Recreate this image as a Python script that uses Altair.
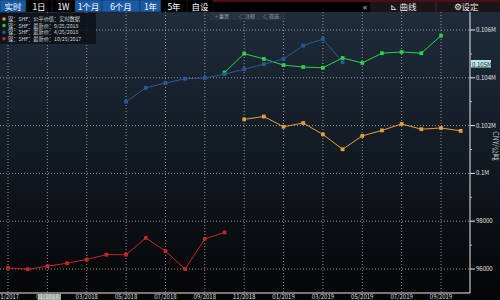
import altair as alt
import pandas as pd

# ---------------- data ----------------
red_months = ["2017-11", "2017-12", "2018-01", "2018-02", "2018-03", "2018-04",
              "2018-05", "2018-06", "2018-07", "2018-08", "2018-09", "2018-10"]
red_values = [96050, 95990, 96120, 96240, 96400, 96600, 96600, 97300, 96750, 96000, 97260, 97530]

blue_months = ["2018-05", "2018-06", "2018-07", "2018-08", "2018-09", "2018-10",
               "2018-11", "2018-12", "2019-01", "2019-02", "2019-03", "2019-04"]
blue_values = [103000, 103580, 103780, 103960, 103990, 104150, 104360, 104570, 104790, 105350, 105620, 104650]

green_months = ["2018-10", "2018-11", "2018-12", "2019-01", "2019-02", "2019-03",
                "2019-04", "2019-05", "2019-06", "2019-07", "2019-08", "2019-09"]
green_values = [104220, 105010, 104790, 104530, 104450, 104420, 104830, 104620, 105030, 105080, 105030, 105760]

orange_months = ["2018-11", "2018-12", "2019-01", "2019-02", "2019-03", "2019-04",
                 "2019-05", "2019-06", "2019-07", "2019-08", "2019-09", "2019-10"]
orange_values = [102260, 102380, 101950, 102110, 101630, 101010, 101570, 101800, 102070, 101850, 101900, 101780]

series_names = ["镍：SHF：公平价值：实时数据", "镍：SHF：最新价：9/25/2018",
                "镍：SHF：最新价：4/25/2018", "镍：SHF：最新价：10/25/2017"]
series_colors = ["#e3a03e", "#2ed049", "#2b5896", "#c4262c"]

x_tick_months = ["2017-11", "2018-01", "2018-03", "2018-05", "2018-07", "2018-09",
                 "2018-11", "2019-01", "2019-03", "2019-05", "2019-07", "2019-09"]
x_tick_labels = ["11/2017", "01/2018", "03/2018", "05/2018", "07/2018", "09/2018",
                 "11/2018", "01/2019", "03/2019", "05/2019", "07/2019", "09/2019"]
y_ticks = [96000, 98000, 100000, 102000, 104000, 106000]
y_tick_labels = ["96000", "98000", "0.1M", "0.102M", "0.104M", "0.106M"]
y_minor_ticks = [97000, 99000, 101000, 103000, 105000]
y_title = "CNY/公吨"
current_value = 104550
current_label = "0.105M"

tabs = [("实时", 0, 26, "#1b5aa6"), ("1日", 26, 52, "#000000"), ("1W", 52, 75, "#000000"),
        ("1个月", 75, 102, "#1b5aa6"), ("6个月", 102, 140, "#1b5aa6"), ("1年", 140, 161, "#1b5aa6"),
        ("5年", 161, 187, "#000000"), ("自设", 187, 213, "#000000")]

FONT = "Noto Sans CJK SC"


def month_idx(s):
    y, m = s.split("-")
    return (int(y) - 2017) * 12 + int(m) - 11


rows = []
for name, months, vals in zip(series_names,
                              [orange_months, green_months, blue_months, red_months],
                              [orange_values, green_values, blue_values, red_values]):
    for mo, v in zip(months, vals):
        rows.append({"series": name, "idx": month_idx(mo), "value": v})
df = pd.DataFrame(rows)

xt = pd.DataFrame({"idx": [month_idx(m) for m in x_tick_months], "label": x_tick_labels})
yt = pd.DataFrame({"value": y_ticks, "label": y_tick_labels})
ym = pd.DataFrame({"value": y_minor_ticks})

one = pd.DataFrame({"a": [0]})

xscale = alt.Scale(domain=[0, 22], range=[8, 441], nice=False, zero=False)
yscale = alt.Scale(domain=[96000, 106000], range=[269, 30], nice=False, zero=False)
cscale = alt.Scale(domain=series_names, range=series_colors)

X = alt.X("idx:Q", scale=xscale, axis=None)
Y = alt.Y("value:Q", scale=yscale, axis=None)

layers = []

# background gradient
layers.append(alt.Chart(one).mark_rect(fill={
    "gradient": "linear", "x1": 0, "x2": 0, "y1": 0, "y2": 1,
    "stops": [{"offset": 0, "color": "#1f2c3b"}, {"offset": 0.5, "color": "#121a22"},
              {"offset": 1, "color": "#040506"}]}).encode(
    x=alt.value(0), x2=alt.value(500), y=alt.value(12), y2=alt.value(300)))

# grid lines
layers.append(alt.Chart(yt).mark_rule(
    color="#c8c8c8", strokeDash=[1, 2], strokeWidth=1, opacity=0.7).encode(
    y=Y, x=alt.value(0), x2=alt.value(470)))
layers.append(alt.Chart(xt).mark_rule(
    color="#c8c8c8", strokeDash=[1, 2], strokeWidth=1, opacity=0.7).encode(
    x=X, y=alt.value(12), y2=alt.value(293)))

# axis lines
layers.append(alt.Chart(one).mark_rule(color="#e8e8e8", strokeWidth=1).encode(
    x=alt.value(470), y=alt.value(12), y2=alt.value(293)))
layers.append(alt.Chart(one).mark_rule(color="#e8e8e8", strokeWidth=1).encode(
    x=alt.value(0), x2=alt.value(470), y=alt.value(293)))

# y ticks and labels
layers.append(alt.Chart(yt).mark_rule(color="#e8e8e8", strokeWidth=1).encode(
    y=Y, x=alt.value(470), x2=alt.value(475)))
layers.append(alt.Chart(ym).mark_rule(color="#bbbbbb", strokeWidth=1).encode(
    y=Y, x=alt.value(470), x2=alt.value(472)))
layers.append(alt.Chart(yt).mark_text(fontSize=6, color="#e0e0e0", font=FONT,
                                      align="left", baseline="middle").encode(
    y=Y, x=alt.value(476), text="label:N"))
layers.append(alt.Chart(one).mark_text(text=y_title, fontSize=7, color="#cccccc", font=FONT,
                                       angle=90, align="center", baseline="middle").encode(
    x=alt.value(495), y=alt.value(146)))

# x labels
layers.append(alt.Chart(one).mark_rect(fill="#b9c9b9", opacity=0.85).encode(
    x=alt.value(38), x2=alt.value(61), y=alt.value(294), y2=alt.value(300)))
layers.append(alt.Chart(xt).mark_text(fontSize=6, color="#dddddd", font=FONT,
                                      align="center", baseline="middle").encode(
    x=X, y=alt.value(297), text="label:N"))

# series lines + markers
base = alt.Chart(df).encode(
    x=X, y=Y,
    color=alt.Color("series:N", scale=cscale, legend=None),
    detail="series:N",
)
layers.append(base.mark_line(strokeWidth=1))
layers.append(base.mark_square(size=14, opacity=1))

# current value tag
layers.append(alt.Chart(one).mark_rect(fill="#bfe3e6").encode(
    x=alt.value(471), x2=alt.value(491), y=alt.value(60), y2=alt.value(67.5)))
layers.append(alt.Chart(pd.DataFrame({"value": [current_value]})).mark_text(
    text=current_label, fontSize=6, color="#10303f", font=FONT, align="left", baseline="middle").encode(
    x=alt.value(472), y=Y))

# legend box
layers.append(alt.Chart(one).mark_rect(fill="#0a1017", opacity=0.85).encode(
    x=alt.value(0), x2=alt.value(96), y=alt.value(13), y2=alt.value(44)))
for i, (nm, col) in enumerate(zip(series_names, series_colors)):
    yy = 19 + i * 6.6
    layers.append(alt.Chart(one).mark_circle(size=12, color=col, opacity=1).encode(
        x=alt.value(4), y=alt.value(yy)))
    layers.append(alt.Chart(one).mark_text(text=nm, fontSize=5.2, color="#d8d8d8", font=FONT,
                                           align="left", baseline="middle").encode(
        x=alt.value(8), y=alt.value(yy)))

# top bar
layers.append(alt.Chart(one).mark_rect(fill="#000000").encode(
    x=alt.value(0), x2=alt.value(500), y=alt.value(0), y2=alt.value(12)))
layers.append(alt.Chart(one).mark_rect(fill="#4a1016").encode(
    x=alt.value(213), x2=alt.value(500), y=alt.value(0), y2=alt.value(2)))
layers.append(alt.Chart(one).mark_rect(fill="#1c1416").encode(
    x=alt.value(370), x2=alt.value(500), y=alt.value(2), y2=alt.value(12)))
layers.append(alt.Chart(one).mark_rule(color="#3a2a2c").encode(
    x=alt.value(436), y=alt.value(2), y2=alt.value(12)))
for lab, x0, x1, fill in tabs:
    layers.append(alt.Chart(one).mark_rect(fill=fill, stroke="#222222", strokeWidth=0.5).encode(
        x=alt.value(x0), x2=alt.value(x1), y=alt.value(0), y2=alt.value(12)))
    layers.append(alt.Chart(one).mark_text(text=lab, fontSize=8.5, color="#ffffff", font=FONT,
                                           align="center", baseline="middle").encode(
        x=alt.value((x0 + x1) / 2), y=alt.value(6.5)))
for lab, xx in [("«", 365), ("⊾ 曲线", 403), ("⚙设定", 466)]:
    layers.append(alt.Chart(one).mark_text(text=lab, fontSize=8.5, color="#e8e8e8", font=FONT,
                                           align="center", baseline="middle").encode(
        x=alt.value(xx), y=alt.value(6.5)))

# small plot buttons
layers.append(alt.Chart(one).mark_rect(fill="#2b343e", opacity=0.9).encode(
    x=alt.value(210), x2=alt.value(285), y=alt.value(12), y2=alt.value(20)))
for lab, xx in [("+ 重置", 222), ("⊂ 注释", 247), ("⊂ 筛选", 271)]:
    layers.append(alt.Chart(one).mark_text(text=lab, fontSize=5, color="#9aa0a6", font=FONT,
                                           align="center", baseline="middle").encode(
        x=alt.value(xx), y=alt.value(16)))

chart = alt.layer(*layers).properties(
    width=500, height=300, autosize="none", padding=0, background="#000000"
).configure_view(stroke=None)

chart.save("out.html", embed_options={"renderer": "svg", "actions": False})
